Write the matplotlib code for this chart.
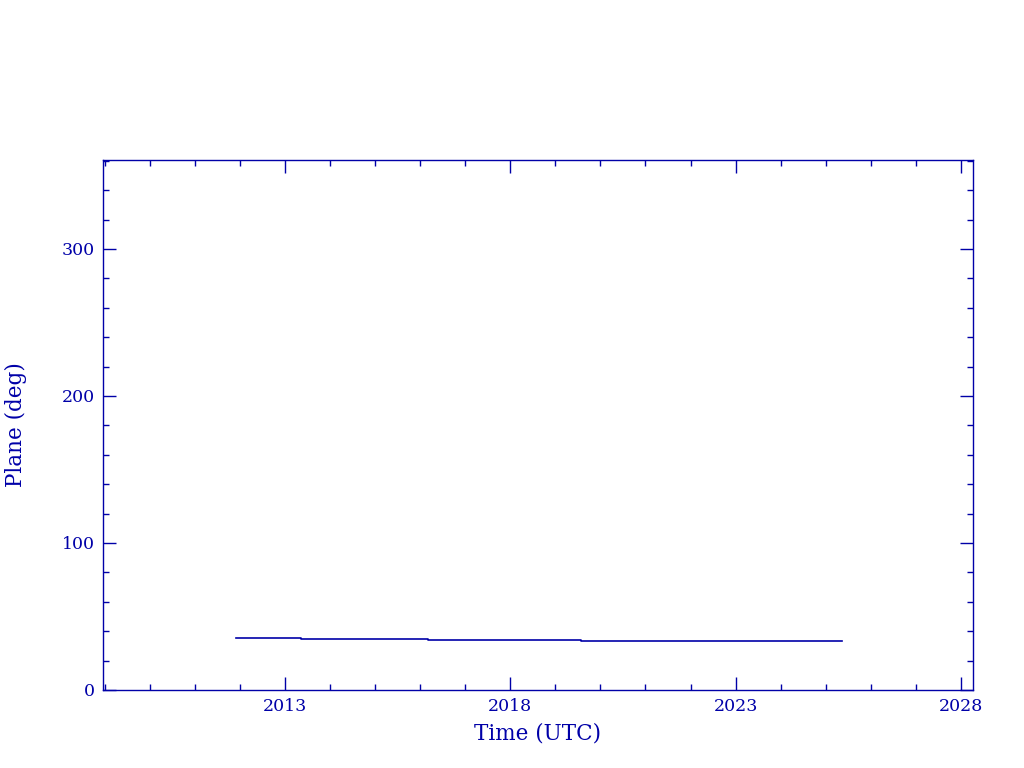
import numpy as np
import matplotlib
matplotlib.use("Agg")
import matplotlib.pyplot as plt
from matplotlib.ticker import MultipleLocator

# decimal years where the plane value changes, and the value from there on
years = [2011.91, 2013.36, 2016.18, 2019.56, 2025.36]
plane = [35.2, 34.5, 33.8, 33.1, 33.1]
xticks = [2013, 2018, 2023, 2028]

col = '#0000A8'
plt.rcParams['font.family'] = ['DejaVu Serif']

fig = plt.figure(figsize=(10.24, 7.68), dpi=100)
ax = fig.add_axes([103 / 1024, 1 - 690 / 768, 870 / 1024, 530 / 768])

ax.plot(years, plane, drawstyle='steps-post', color=col, linewidth=1.2)

ax.set_xlim(2008.96, 2028.27)
ax.set_ylim(0, 360.5)
ax.set_xticks(xticks)
ax.xaxis.set_minor_locator(MultipleLocator(1))
ax.yaxis.set_major_locator(MultipleLocator(100))
ax.yaxis.set_minor_locator(MultipleLocator(20))

for s in ax.spines.values():
    s.set_color(col)
    s.set_linewidth(1.0)
ax.tick_params(which='both', direction='in', top=True, right=True, colors=col, labelcolor=col)
ax.tick_params(which='major', length=9.5, width=1.0, labelsize=12.5, pad=6)
ax.tick_params(which='minor', length=4.5, width=1.0)

ax.set_xlabel('Time (UTC)', color=col, fontsize=15.5, labelpad=5)
ax.set_ylabel('Plane (deg)', color=col, fontsize=15.5, labelpad=25)

fig.savefig('out.png', dpi=100)
